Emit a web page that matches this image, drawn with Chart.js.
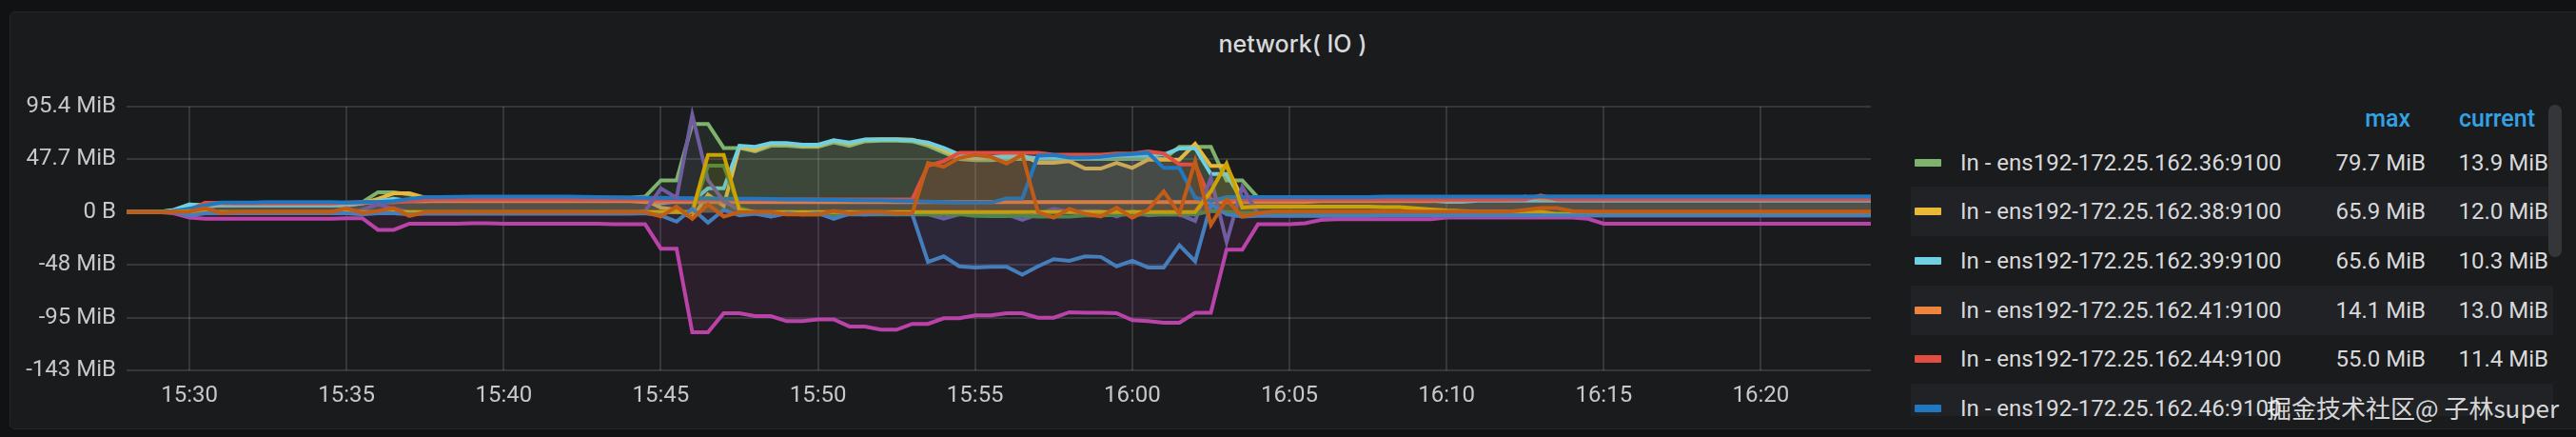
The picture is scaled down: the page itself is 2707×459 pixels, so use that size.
<!DOCTYPE html>
<html>
<head>
<meta charset="utf-8">
<title>network( IO )</title>
<script src="https://cdn.jsdelivr.net/npm/chart.js@4.4.1/dist/chart.umd.min.js"></script>
<style>
    html, body {
        margin: 0;
        padding: 0;
        width: 2707px;
        height: 459px;
        overflow: hidden;
        background: #111213;
        font-family: Roboto, 'Noto Sans', sans-serif;
    }
    .panel {
        position: absolute;
        left: 10px;
        top: 12px;
        width: 2720px;
        height: 437px;
        background: #1a1b1d;
        border: 1px solid #25262a;
        border-radius: 6px;
    }
    .title {
        position: absolute;
        left: 10px;
        width: 2697px;
        top: 30px;
        line-height: 32px;
        text-align: center;
        font-family: Inter, Roboto, sans-serif;
        font-weight: 500;
        font-size: 25px;
        color: #d8d9da;
    }
    #chartWrap {
        position: absolute;
        left: 10px;
        top: 60px;
        width: 1980px;
        height: 391px;
    }
    .legend {
        position: absolute;
        left: 2008px;
        top: 100px;
        width: 676px;
        height: 337px;
        overflow: hidden;
        font-size: 24px;
        color: #d8d9da;
    }
    .legend .head {
        position: absolute;
        top: 0;
        height: 45px;
        line-height: 50px;
        color: #33a2e5;
        font-weight: 500;
        font-size: 25px;
    }
    .legend .row {
        position: absolute;
        left: 0;
        width: 675px;
        height: 52px;
        line-height: 52px;
    }
    .legend .row.alt { background: #202226; }
    .legend .swatch {
        position: absolute;
        left: 4px;
        top: 22px;
        width: 28px;
        height: 8px;
        border-radius: 1px;
    }
    .legend .name { position: absolute; left: 52px; white-space: nowrap; }
    .legend .val { position: absolute; text-align: right; width: 120px; white-space: nowrap; }
    .scrollbar {
        position: absolute;
        left: 2678px;
        top: 110px;
        width: 14px;
        height: 160px;
        border-radius: 7px;
        background: #34363a;
    }
    .watermark {
        position: absolute;
        right: 18px;
        top: 411px;
        line-height: 34px;
        font-family: 'Noto Sans CJK SC', 'Noto Sans', sans-serif;
        font-size: 26px;
        color: rgba(240, 240, 240, 0.9);
        white-space: nowrap;
    }
</style>
</head>
<body>
<div class="panel"></div>
<div class="title">network( IO )</div>
<div id="chartWrap"><canvas id="ioChart"></canvas></div>
<div class="legend" id="legend"></div>
<div class="scrollbar"></div>
<div class="watermark">掘金技术社区@ 子林super</div>

<script>
// hosts and series colours (Grafana classic palette)
const hosts = ['172.25.162.36:9100', '172.25.162.38:9100', '172.25.162.39:9100',
               '172.25.162.41:9100', '172.25.162.44:9100', '172.25.162.46:9100'];
const seriesColors = ['#7EB26D', '#EAB839', '#6ED0E0', '#EF843C', '#E24D42', '#1F78C1',
                      '#BA43A9', '#705DA0', '#508642', '#CCA300', '#447EBC', '#C15C17'];

// x axis: one sample every 30 s starting 15:28:00
const startTime = '15:28:00';
const stepSeconds = 30;
const xTickLabels = ['15:30', '15:35', '15:40', '15:45', '15:50', '15:55',
                     '16:00', '16:05', '16:10', '16:15', '16:20'];

// y axis (values in MiB, ticks every 50 MB)
const yTickValues = [-143.05, -95.37, -47.68, 0, 47.68, 95.37];
const yTickLabels = ['-143 MiB', '-95 MiB', '-48 MiB', '0 B', '47.7 MiB', '95.4 MiB'];

// series values, MiB per sample
const inGreen = [
    0, 0, 0, 1.5, 7, 6, 6, 6.5, 6.5, 7,
    7, 7, 7, 7, 7.5, 9, 18, 18, 16, 13,
    13, 13, 13, 13, 13, 13, 13, 13, 13, 13,
    13, 13, 13, 14, 28.7, 28.7, 79.7, 79.7, 58, 58,
    55, 60, 60, 59, 59, 63, 60, 64, 64.5, 64.5,
    64, 60, 54, 48, 47, 47, 48, 48, 48, 48,
    48, 48, 48, 48, 48, 48, 48, 59, 59, 59,
    28.7, 28.7, 13, 13, 13.5, 13.5, 13.5, 13.5, 13.5, 13.5,
    13.5, 13.5, 13.5, 13.5, 13.5, 13.5, 13.5, 13.5, 13.5, 13.5,
    13.8, 13.8, 13.8, 13.8, 13.8, 13.8, 13.8, 13.8, 13.8, 13.8,
    13.9, 13.9, 13.9, 13.9, 13.9, 13.9, 13.9, 13.9, 13.9, 13.9, 13.9, 13.9
];
const inYellow = [
    0, 0, 0, 1, 3, 5, 6, 6, 6, 6,
    6, 6, 6, 6, 6.5, 8, 12, 17, 17, 13,
    12, 12, 12, 12, 12, 12, 12, 12, 12, 12,
    12, 12, 12, 11, 4, 2, -5, 15.8, 5.7, 59,
    56, 61.8, 61.8, 60, 60, 64.7, 61.8, 65.5, 65.9, 65.9,
    65.5, 61.8, 56, 50, 49, 49.5, 51, 51.7, 44.5, 44.5,
    46, 39.4, 39.4, 44.5, 40, 47.4, 47.4, 47.4, 61.8, 41.7,
    41.7, 12, 12, 12, 12, 12, 12, 12, 12, 12,
    12, 12, 12, 12, 12, 12, 12, 12, 12, 12,
    12, 12, 12, 12, 12, 12, 12, 12, 12, 12,
    12, 12, 12, 12, 12, 12, 12, 12, 12, 12, 12, 12
];
const inCyan = [
    0, 0, 0, 2, 7, 6, 6, 6, 6, 6,
    6, 6, 6, 6, 6, 8, 10, 12, 10, 10,
    10.5, 10.5, 10.5, 10.5, 10.5, 10.5, 10.5, 10.5, 10.5, 10.5,
    10.5, 10.5, 10.5, 10.5, 8, 10, 10, 21.5, 21.5, 60,
    59, 62.5, 62.5, 61, 61, 65, 63, 65.6, 65.6, 65.6,
    65, 63, 58, 52, 50, 50, 50, 50, 49, 49,
    49, 49, 49, 51, 51, 51, 52, 57.5, 58, 34.5,
    34.5, 10, 10.3, 10.3, 10.3, 10.3, 10.3, 10.3, 10.3, 10.3,
    10.3, 10.3, 10.3, 10.3, 9.3, 9.3, 10.3, 10.3, 10.3, 10.3,
    10.3, 10.3, 10.3, 10.3, 10.3, 10.3, 10.3, 10.3, 10.3, 10.3,
    10.3, 10.3, 10.3, 10.3, 10.3, 10.3, 10.3, 10.3, 10.3, 10.3, 10.3, 10.3
];
const inOrange = [
    0, 0, 0, 1, 2, 8, 8, 8, 8, 8,
    8, 8, 8, 8, 8.5, 8.5, 9, 9, 10, 10,
    10, 10, 10, 10, 10, 10, 10, 10, 10, 10,
    10, 10, 10, 9, 9, 9, 9, 9, 9, 9,
    9, 9, 9, 9, 9, 9, 9, 9, 9, 9,
    9, 9, 9, 9, 9, 9, 9, 9, 9, 9,
    9, 9, 9, 9, 9, 9, 9, 9, 9, 9,
    9, 9, 9, 9, 9, 9, 10, 10, 10, 10,
    10, 10, 10, 10, 10.5, 10.5, 11, 11, 11.5, 14.1,
    12, 12, 12, 12.5, 12.5, 12.5, 12.5, 13, 13, 13,
    13, 13, 13, 13, 13, 13, 13, 13, 13, 13, 13, 13
];
const inRed = [
    0, 0, 0, 1, 2, 8.5, 8.5, 8, 8, 8,
    8, 8, 8, 8, 8.7, 9, 9, 9, 10, 11,
    11.5, 11.5, 11.5, 11.5, 11.5, 11.5, 11.5, 11.5, 11.5, 11.5,
    11.5, 11.5, 11.5, 11.5, 11.5, 11.5, 11.5, 11.5, 11.5, 11.5,
    11.5, 11.5, 11.5, 11.5, 11.5, 11.5, 11.5, 11.5, 11.5, 11.5,
    11.5, 42, 46, 53.7, 53.7, 53.7, 53.7, 53.7, 53.7, 52,
    52, 52, 52, 53, 53, 55, 53, 43, 43, 11,
    11.4, 11.4, 11.4, 11.4, 11.4, 11.4, 11.4, 11.4, 11.4, 11.4,
    11.4, 11.4, 11.4, 11.4, 11.4, 11.4, 11.4, 11.4, 11.4, 11.4,
    15, 11.4, 11.4, 11.4, 11.4, 11.4, 11.4, 11.4, 11.4, 11.4,
    11.4, 11.4, 11.4, 11.4, 11.4, 11.4, 11.4, 11.4, 11.4, 11.4, 11.4, 11.4
];
const inBlue = [
    0, 0, 0, 1, 3, 6, 8.7, 8.7, 8.7, 9,
    9, 9, 9, 9, 8.7, 9, 9, 10, 12, 13.6,
    13.6, 13.8, 14, 14, 14, 14, 14, 14, 14, 13.8,
    13.6, 13.4, 13.2, 13, 13, 12.8, 12.5, 12.5, 12.2, 12,
    12, 11.8, 11.5, 11.5, 11.2, 11, 10.8, 10.5, 10.5, 10.2,
    10, 9.5, 9, 8.6, 8.6, 8.6, 12.4, 12.4, 51, 51.7,
    49.4, 49.4, 50, 51.7, 52.6, 53.7, 40, 40, 13, 10,
    13.5, 13.5, 13.5, 13.5, 13.5, 13.5, 13.5, 13.5, 13.5, 13.5,
    14, 14, 14, 14, 14, 14, 14, 14, 14, 14,
    14, 14, 14, 14, 14, 14, 14, 14, 14, 14,
    14, 14, 14, 14, 14, 14, 14, 14, 14, 14, 14, 14
];
const outMagenta = [
    0, 0, 0, -1, -5, -6, -6, -6, -6, -6,
    -6, -6, -6, -6, -5.5, -5.5, -16, -16, -10.5, -10.5,
    -10.5, -10.5, -10, -10, -10.5, -10.5, -10.5, -10.5, -10.5, -10.5,
    -10.5, -11, -11, -11, -33, -33, -108.6, -108.6, -91.4, -91.4,
    -94, -94, -98.6, -98.6, -97, -97, -103.4, -103.4, -106.3, -106.3,
    -101, -101, -96, -96, -93.4, -93.4, -91.4, -91.4, -95.4, -95.4,
    -90.5, -91, -91, -91.4, -97.7, -98.5, -100, -100, -91, -91,
    -34, -34, -11, -11, -11, -10, -7, -6.5, -6.5, -6.5,
    -6.5, -6.5, -6.5, -6.5, -5, -5, -5, -5, -5, -5,
    -5, -5, -5, -6, -10.5, -10.5, -10.5, -10.5, -10.5, -10.5,
    -10.5, -10.5, -10.5, -10.5, -10.5, -10.5, -10.5, -10.5, -10.5, -10.5, -10.5, -10.5
];
const outPurple = [
    0, 0, 0, 0, -1, -0.5, -0.5, -0.5, -0.5, -0.5,
    -0.5, -0.5, -0.5, -0.5, -0.5, 2, 7, 3, 0, -0.5,
    -0.5, -0.5, -0.5, -0.5, -0.5, -0.5, -0.5, -0.5, -0.5, -0.5,
    -0.5, -0.5, -0.5, 1, 21.5, 13, 88, 29, 10, 2,
    0, -4, -1, 0, -1, -3, 0, -2, 0, -2,
    0, -2, -6, -2, -1, -2, -2, -7, -2, 3,
    0, 1, 1, -4, 1, -3, -2, -2, -8, 31,
    -27, 23, -1.5, -3, -3, -3, -3, -3, -3, -3,
    -3, -3, -3, -3, -3.5, -3.5, -3.5, -3.5, -3.5, -3.5,
    -3, -3, -3, -3, -3, -3, -3, -3, -3, -3,
    -3, -3, -3, -3, -3, -3, -3, -3, -3, -3, -3, -3
];
const outDarkGreen = [
    0, 0, 0, 0, 1, 0, 0, 0, 0, 0,
    0, 0, 0, 0, 0, 0, 0, 0, 0, 0,
    0, 0, 0, 0, 0, 0, 0, 0, 0, 0,
    0, 0, 0, 0, 0, 0, 0, 42, 42, 4,
    0, -1, -1, -2, -2, -2, -2, -2, -2, -2,
    -2, -2, -2, -2, -3.5, -3.7, -3.7, -3, -4, -4,
    -4, -3, -3, -2.5, -2, -2, -2, -2, -2, 1,
    0, -1, -1, -1, -1, -1, -1, -1, -1, -1,
    -1, -1, -1, -1, -1, -1, -1, -1, -1, -1,
    -1, -1, -1, -1, -1, -1, -1, -1, -1, -1,
    -1, -1, -1, -1, -1, -1, -1, -1, -1, -1, -1, -1
];
const outDarkYellow = [
    0, 0, 0, 0, 1, 0, 0, 0, 0, 0,
    0, 0, 0, 0, 0, 0, 0, 0, 0, 0,
    0, 0, 0, 0, 0, 0, 0, 0, 0, 0,
    0, 0, 0, 0, 0, 0, 0, 51.7, 51.7, 2,
    0, 0, 0, 0, 0, 0, 0, 0, 0, 0,
    0, 0, 0, 0, 0, 0, 0, 0, 0, 0,
    0, 0, 0, 0, 0, 0, 0, 0, 0, 18.7,
    44, 4.3, 5, 5, 5, 5, 5, 5, 5, 5,
    4.5, 4.5, 3.5, 2.5, 1.5, 1, 0.5, 0.5, 0.5, 0.5,
    0.5, -1.8, -1.8, -1.8, -1.8, -1.8, -1.8, -1.8, -1.8, -1.8,
    -1.8, -1.8, -1.8, -1.8, -1.8, -1.8, -1.8, -1.8, -1.8, -1.8, -1.8, -1.8
];
const outSteelBlue = [
    0, 0, 0, 0, -3, -1, -1, -1, -1, -1,
    -1, -1, -1, -1, -1, -2, -1, -1, -2, -1.5,
    -1.5, -1.5, -1.5, -1.5, -1.5, -1.5, -1.5, -1.5, -1.5, -1.5,
    -1.5, -1.5, -1.5, -1, -3, -8.6, 3, -9.5, 2, -3,
    -1.5, -4, -1, -2, -1, -6, -1.5, -2, -1.5, -1.5,
    -2, -45, -40, -49, -50, -49.5, -49.5, -56.6, -49, -42.5,
    -44, -40, -40.5, -49, -44, -50, -50, -30, -44.5, 7,
    -2, -4, -3.5, -3.5, -3.5, -3.5, -3.5, -3.5, -3.5, -3.5,
    -3, -3, -3, -3, -3, -3, -3, -3, -3, -3,
    -3, -3, -3, -3, -3, -3, -3, -3, -3, -3,
    -3, -3, -3, -3, -3, -3, -3, -3, -3, -3, -3, -3
];
const outDarkOrange = [
    0, 0, 0, 0, 0.5, 3.6, -0.7, 0, 0, 0,
    0, 0, 0, 0, 3.6, -0.7, 1, 3.6, -3.5, 0,
    0, 0, 0, 0, 0, 0, 0, 0, 0, 0,
    0, 0, 0, 0, -4, 5, -6, 7, -4, 0,
    0, 0, -2, -2, -2, 1, -1, 0, 0, -1,
    -1, 44.5, 41, 49, 51.7, 50, 44, 52, 0, -5,
    3, -1.5, -4, 4, -5, 2, 18.7, -1.5, 46, -11.5,
    11.5, -4, -1, 0.5, 0.5, 0.5, 0.5, 0.5, 0.5, 0.5,
    0.5, 0.5, 0.5, 0.5, 0.5, 0.5, 0.5, 0.5, 0.5, 2,
    3.6, 3.6, 1, 0.5, 0.5, 0.5, 0.5, 0.5, 0.5, 0.5,
    0.5, 0.5, 0.5, 0.5, 0.5, 0.5, 0.5, 0.5, 0.5, 0.5, 0.5, 0.5
];

const seriesData = [inGreen, inYellow, inCyan, inOrange, inRed, inBlue,
                    outMagenta, outPurple, outDarkGreen, outDarkYellow, outSteelBlue, outDarkOrange];
const seriesNames = hosts.map(h => 'In - ens192-' + h).concat(hosts.map(h => 'Out - ens192-' + h));

// time categories
function buildTimes(start, step, count) {
    const parts = start.split(':').map(Number);
    const base = parts[0] * 3600 + parts[1] * 60 + parts[2];
    const pad = n => String(n).padStart(2, '0');
    const out = [];
    for (let i = 0; i < count; i++) {
        const s = base + i * step;
        out.push(pad(Math.floor(s / 3600)) + ':' + pad(Math.floor(s / 60) % 60) + ':' + pad(s % 60));
    }
    return out;
}
const times = buildTimes(startTime, stepSeconds, inGreen.length);

Chart.defaults.font.family = "Roboto, 'Noto Sans', sans-serif";
Chart.defaults.font.size = 24;
Chart.defaults.color = '#c7c8cc';

const gridColor = 'rgba(204, 204, 220, 0.16)';

new Chart(document.getElementById('ioChart'), {
    type: 'line',
    data: {
        labels: times,
        datasets: seriesData.map((data, i) => ({
            label: seriesNames[i],
            data: data,
            borderColor: seriesColors[i],
            backgroundColor: seriesColors[i] + '1a',
            borderWidth: 4,
            pointRadius: 0,
            tension: 0,
            fill: 'origin',
            order: seriesData.length - i
        }))
    },
    options: {
        responsive: true,
        maintainAspectRatio: false,
        animation: false,
        layout: {
            padding: { top: 52, right: 24, left: 0, bottom: 0 }
        },
        plugins: {
            legend: { display: false },
            tooltip: { enabled: false },
            title: { display: false }
        },
        scales: {
            x: {
                type: 'category',
                offset: false,
                border: { display: false },
                grid: {
                    color: gridColor,
                    lineWidth: 2,
                    drawTicks: false,
                    offset: false
                },
                ticks: {
                    autoSkip: false,
                    maxRotation: 0,
                    minRotation: 0,
                    padding: 13,
                    callback: function(value, index) {
                        const t = times[index];
                        const hm = t.slice(0, 5);
                        return (t.endsWith(':00') && xTickLabels.includes(hm)) ? hm : null;
                    }
                },
                afterFit: function(scale) {
                    scale.height = 62;
                }
            },
            y: {
                min: yTickValues[0],
                max: yTickValues[yTickValues.length - 1],
                border: { display: false },
                grid: {
                    color: gridColor,
                    lineWidth: 2,
                    drawTicks: false
                },
                ticks: {
                    padding: 11,
                    callback: function(value) {
                        const idx = yTickValues.indexOf(value);
                        return idx >= 0 ? yTickLabels[idx] : '';
                    }
                },
                afterBuildTicks: function(scale) {
                    scale.ticks = yTickValues.map(v => ({ value: v }));
                },
                afterFit: function(scale) {
                    scale.width = 123;
                }
            }
        }
    }
});

// HTML legend table with max / current
function fmtMiB(v) {
    return v.toFixed(1) + ' MiB';
}

const legendEl = document.getElementById('legend');
let html = '<div class="head" style="left:0;width:525px;text-align:right">max</div>' +
           '<div class="head" style="left:0;width:656px;text-align:right">current</div>';
const rowTop = 44.5;
const rowHeight = 51.7;
// only the first five rows show their figures; the sixth is under the watermark
seriesNames.forEach((name, i) => {
    const data = seriesData[i];
    const top = rowTop + i * rowHeight;
    let cells = '';
    if (i < 5) {
        cells = '<div class="val" style="left:421px">' + fmtMiB(Math.max(...data)) + '</div>' +
                '<div class="val" style="left:550px">' + fmtMiB(data[data.length - 1]) + '</div>';
    }
    html += '<div class="row' + (i % 2 === 1 ? ' alt' : '') + '" style="top:' + top + 'px">' +
            '<div class="swatch" style="background:' + seriesColors[i] + '"></div>' +
            '<div class="name">' + name + '</div>' + cells +
            '</div>';
});
legendEl.innerHTML = html;
</script>
</body>
</html>
